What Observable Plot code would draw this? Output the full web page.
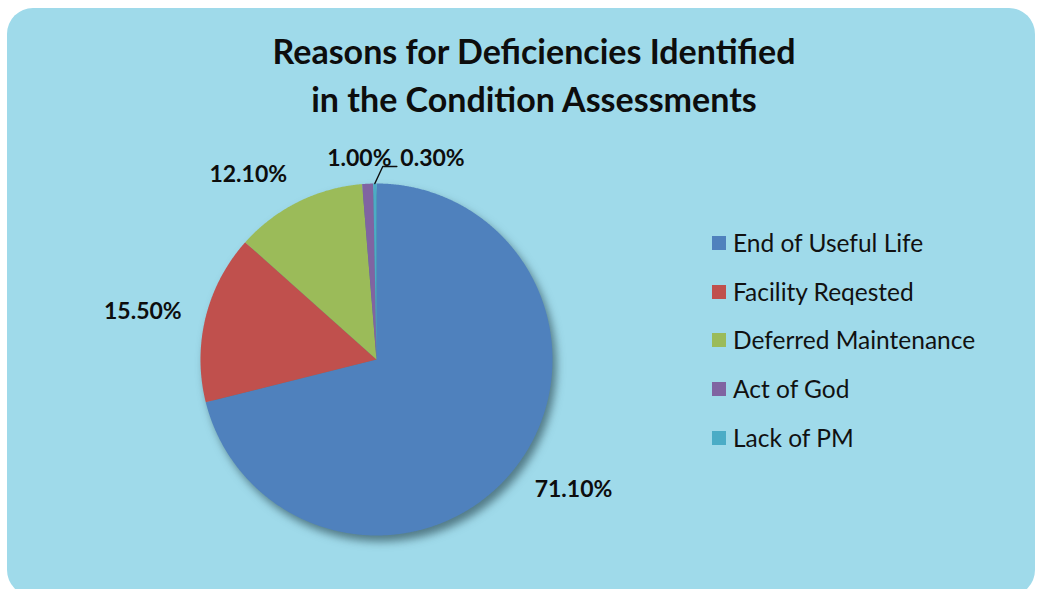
<!DOCTYPE html>
<html>
<head>
<meta charset="utf-8">
<script src="https://cdn.jsdelivr.net/npm/d3@7"></script>
<script src="https://cdn.jsdelivr.net/npm/@observablehq/plot@0.6"></script>
<style>
  html, body { margin: 0; padding: 0; background: #ffffff; }
  #wrap { position: relative; width: 1039px; height: 589px; overflow: hidden; font-family: Lato, "Open Sans", sans-serif; }
  #panel { position: absolute; left: 7px; top: 8px; width: 1028px; height: 588px; background: #9fdaea; border-radius: 26px; }
  #title { position: absolute; left: 0; width: 1068px; top: 27px; text-align: center; font-weight: 700; font-size: 34px; line-height: 48px; color: #0d0d0d; }
  #chart { position: absolute; left: 0; top: 0; }
  #legend { position: absolute; left: 712px; top: 228px; color: #111; font-size: 24.5px; }
  .item { height: 48.7px; display: flex; align-items: flex-start; }
  .sw { width: 14px; height: 14px; margin-top: 8px; margin-right: 7px; flex: none; }
</style>
</head>
<body>
<div id="wrap">
  <div id="panel"></div>
  <div id="title"></div>
  <div id="chart"></div>
  <div id="legend"></div>
</div>
<script>
const titleLines = ["Reasons for Deficiencies Identified", "in the Condition Assessments"];
const categories = ["End of Useful Life", "Facility Reqested", "Deferred Maintenance", "Act of God", "Lack of PM"];
const values = [71.1, 15.5, 12.1, 1.0, 0.3];
const valueLabels = ["71.10%", "15.50%", "12.10%", "1.00%", "0.30%"];
const colors = ["#4f81bd", "#c0504d", "#9bbb59", "#8064a2", "#4bacc6"];

// layout constants
const cx = 376, cy = 359, R = 176;
const labelR = 1.14;

document.getElementById("title").innerHTML = titleLines.map(t => `<div>${t}</div>`).join("");

const arcs = d3.pie().sort(null).value(d => d)(values);

// polygon points for each slice (geometry derived from data angles)
const slicePts = [];
arcs.forEach((a, i) => {
  const n = Math.max(2, Math.ceil((a.endAngle - a.startAngle) / 0.005));
  slicePts.push({key: categories[i], x: 0, y: 0});
  for (let k = 0; k <= n; k++) {
    const t = a.startAngle + (a.endAngle - a.startAngle) * k / n;
    slicePts.push({key: categories[i], x: Math.sin(t), y: Math.cos(t)});
  }
  slicePts.push({key: categories[i], x: 0, y: 0});
});

const labelRows = [];
const leaderPts = [];
arcs.forEach((a, i) => {
  const m = (a.startAngle + a.endAngle) / 2;
  const s = Math.sin(m), c = Math.cos(m);
  const frac = values[i] / d3.sum(values);
  if (frac < 0.005) {
    // small slice: leader line
    const ex = s + 0.045, ey = 1.097, hx = ex + 0.08;
    leaderPts.push({x: s, y: c}, {x: ex, y: ey}, {x: hx, y: ey});
    labelRows.push({x: hx + 0.02, y: 1.142, text: valueLabels[i], anchor: "start"});
  } else {
    const anchor = Math.abs(s) < 0.1 ? "middle" : (s > 0 ? "start" : "end");
    // labels below the centre sit slightly lower, as in the reference
    const yShift = c < -0.3 ? -0.04 : (c > 0.8 && anchor === "end" ? 0.03 : 0);
    labelRows.push({x: s * labelR + (anchor === "middle" ? -0.04 : 0), y: c * labelR + yShift, text: valueLabels[i], anchor});
  }
});

const textMark = anchor => Plot.text(labelRows.filter(d => d.anchor === anchor), {
  x: "x", y: "y", text: "text", textAnchor: anchor,
  fontSize: 23, fontWeight: 700, fill: "#0d0d0d", fontFamily: "Lato, 'Open Sans', sans-serif"
});

const plot = Plot.plot({
  width: 1039,
  height: 589,
  margin: 0,
  x: {domain: [-1, 1], range: [cx - R, cx + R], axis: null},
  y: {domain: [-1, 1], range: [cy + R, cy - R], axis: null},
  color: {domain: categories, range: colors},
  style: {background: "transparent", overflow: "visible"},
  marks: [
    Plot.line(slicePts, {x: "x", y: "y", z: "key", fill: "key", stroke: "none", curve: "linear"}),
    Plot.line(leaderPts, {x: "x", y: "y", stroke: "#0d0d0d", strokeWidth: 1.4}),
    textMark("start"),
    textMark("end"),
    textMark("middle")
  ]
});
// drop shadow on the pie
const pieG = plot.querySelector('g[aria-label="line"]');
if (pieG) pieG.setAttribute("style", "filter: drop-shadow(4px 6px 4px rgba(20,45,55,0.55))");
document.getElementById("chart").appendChild(plot);

document.getElementById("legend").innerHTML = categories.map((c, i) =>
  `<div class="item"><span class="sw" style="background:${colors[i]}"></span><span style="line-height:29px">${c}</span></div>`
).join("");
</script>
</body>
</html>
